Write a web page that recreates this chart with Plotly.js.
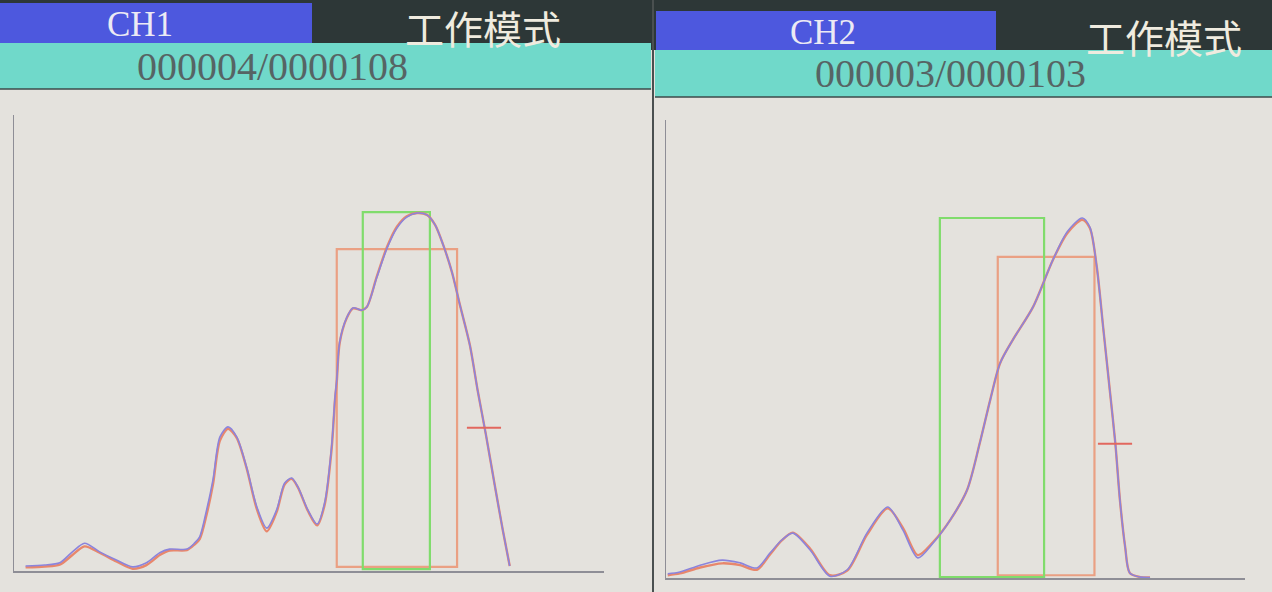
<!DOCTYPE html>
<html>
<head>
<meta charset="utf-8">
<script src="https://cdn.plot.ly/plotly-3.0.1.min.js"></script>
<style>
html,body{margin:0;padding:0;background:#e4e2dd;}
#chart{width:1272px;height:592px;}
</style>
</head>
<body>
<div id="chart"></div>
<script>
// ---- data ----
const channelNames = ["CH1", "CH2"];
const modeLabel = "工作模式";
const counters = ["000004/0000108", "000003/0000103"];

// CH1 waveform (two overlapping captures)
const ch1X = [0.0, 3.3, 5.9, 8.1, 10.2, 12.8, 15.7, 18.5, 20.9, 23.2, 24.9, 27.9, 29.2, 30.1, 31.3, 32.4, 33.6, 35.0, 36.5, 38.2, 40.0, 41.7, 43.4, 44.8, 46.0, 47.1, 48.8, 50.4, 51.7, 52.9, 53.5, 53.8, 54.3, 55.5, 56.6, 58.1, 59.0, 60.7, 62.5, 64.2, 65.9, 67.7, 69.4, 70.8, 72.2, 73.7, 75.1, 76.8, 78.2, 79.6, 81.1, 82.5, 83.7];
const ch1Blue = [1.1, 1.3, 1.8, 4.2, 6.1, 4.2, 2.4, 0.9, 1.8, 4.0, 4.8, 4.8, 6.1, 7.5, 13.4, 20.0, 29.4, 31.6, 29.4, 22.8, 14.0, 9.4, 13.4, 19.3, 20.4, 18.4, 13.4, 10.3, 14.9, 27.2, 38.2, 41.9, 50.2, 55.5, 57.7, 57.2, 57.9, 64.3, 70.8, 75.2, 77.6, 78.5, 78.1, 75.9, 71.5, 65.6, 58.3, 49.6, 39.3, 29.8, 18.9, 9.0, 1.1];
const ch1Orange = [0.8, 1.0, 1.4, 3.5, 5.4, 4.0, 2.1, 0.5, 1.3, 3.5, 4.5, 4.6, 5.8, 7.0, 12.4, 19.0, 28.6, 31.2, 29.2, 22.6, 13.5, 8.7, 12.9, 19.0, 20.2, 18.3, 13.2, 10.0, 14.5, 26.6, 37.6, 41.5, 50.0, 55.4, 57.6, 57.2, 57.9, 64.5, 71.1, 75.5, 77.8, 78.5, 78.1, 75.9, 71.5, 65.6, 58.3, 49.6, 39.3, 29.8, 18.9, 9.0, 1.1];

// CH2 waveform
const ch2X = [0.3, 2.4, 5.9, 9.7, 12.8, 15.7, 18.0, 20.0, 21.9, 24.9, 28.3, 31.3, 34.7, 38.3, 40.9, 43.5, 46.1, 49.1, 52.0, 54.2, 56.0, 57.7, 59.9, 63.4, 66.8, 69.3, 71.9, 73.2, 74.4, 75.5, 76.7, 77.6, 78.4, 79.3, 80.1, 81.9, 83.6];
const ch2Blue = [0.9, 1.3, 2.8, 3.9, 3.3, 2.2, 5.5, 8.3, 9.8, 6.1, 0.4, 1.8, 9.8, 15.5, 10.5, 4.4, 7.6, 12.7, 19.2, 29.5, 38.9, 46.9, 52.0, 59.2, 69.4, 75.6, 78.6, 76.6, 67.9, 54.8, 40.4, 29.5, 17.0, 6.8, 1.1, 0.2, 0.1];
const ch2Orange = [0.6, 1.0, 2.3, 3.2, 2.8, 1.8, 5.2, 8.2, 9.9, 6.4, 0.6, 1.6, 9.4, 15.2, 11.0, 5.0, 7.8, 12.7, 19.2, 29.5, 38.9, 46.9, 52.0, 59.2, 69.4, 75.3, 78.2, 76.4, 67.9, 54.8, 40.4, 29.5, 17.0, 6.8, 1.1, 0.2, 0.1];

// detection windows [left, right] and [bottom, top]
const ch1WinOrangeX = [53.8, 74.6], ch1WinOrangeY = [0.9, 70.6];
const ch1WinGreenX = [58.3, 69.9],  ch1WinGreenY = [0.4, 78.7];
const ch1MarkX = [76.3, 82.2], ch1MarkY = 31.4;
const ch2WinOrangeX = [57.3, 74.0], ch2WinOrangeY = [0.6, 70.1];
const ch2WinGreenX = [47.3, 65.3],  ch2WinGreenY = [0.2, 78.6];
const ch2MarkX = [74.6, 80.5], ch2MarkY = 29.3;

// ---- styling helpers ----
const W = 1272, H = 592;
const px = x => x / W;
const py = y => 1 - y / H;

const C = {
  bg: "#e4e2dd", dark: "#2d3737", blue: "#4d58de", cyan: "#70d9ca",
  cyanText: "#566464", headText: "#efebdf",
  lineBlue: "#8b84dc", lineOrange: "#e8876c",
  winOrange: "#eaa083", winGreen: "#80dc6c", mark: "#e2675e", axis: "#8e8e96"
};

function trace(x, y, color, xa, ya, w) {
  return {x: x, y: y, xaxis: xa, yaxis: ya, type: "scatter", mode: "lines",
    line: {color: color, width: w, shape: "spline", smoothing: 0.8}, hoverinfo: "skip", showlegend: false};
}

const data = [
  trace(ch1X, ch1Orange, C.lineOrange, "x", "y", 2.4),
  trace(ch1X, ch1Blue, C.lineBlue, "x", "y", 1.6),
  trace(ch2X, ch2Orange, C.lineOrange, "x2", "y2", 2.4),
  trace(ch2X, ch2Blue, C.lineBlue, "x2", "y2", 1.6)
];

function box(xr, yr, color, xref, yref) {
  return {type: "rect", xref: xref, yref: yref, x0: xr[0], x1: xr[1], y0: yr[0], y1: yr[1],
    line: {color: color, width: 2.2}, fillcolor: "rgba(0,0,0,0)", layer: "below"};
}
function mark(xr, yv, xref, yref) {
  return {type: "line", xref: xref, yref: yref, x0: xr[0], x1: xr[1], y0: yv, y1: yv,
    line: {color: C.mark, width: 2}};
}
function prect(x0, y0, x1, y1, fill) {
  return {type: "rect", xref: "paper", yref: "paper", x0: px(x0), x1: px(x1), y0: py(y1), y1: py(y0),
    line: {width: 0}, fillcolor: fill, layer: "above"};
}
function pline(x0, y0, x1, y1, color, w) {
  return {type: "line", xref: "paper", yref: "paper", x0: px(x0), x1: px(x1), y0: py(y0), y1: py(y1),
    line: {color: color, width: w}, layer: "above"};
}

const shapes = [
  // header band
  prect(0, 0, W, 50, C.dark),
  prect(0, 3, 312, 43, C.blue),
  prect(656, 11, 996, 50, C.blue),
  prect(0, 43, 651, 89, C.cyan),
  prect(655, 50, W, 97, C.cyan),
  pline(0, 89, 651, 89, "#3c4a4a", 1.5),
  pline(655, 97, W, 97, "#3c4a4a", 1.5),
  pline(653, 0, 653, H, "#4a5050", 2),
  // windows
  box(ch1WinOrangeX, ch1WinOrangeY, C.winOrange, "x", "y"),
  box(ch1WinGreenX, ch1WinGreenY, C.winGreen, "x", "y"),
  mark(ch1MarkX, ch1MarkY, "x", "y"),
  box(ch2WinOrangeX, ch2WinOrangeY, C.winOrange, "x2", "y2"),
  box(ch2WinGreenX, ch2WinGreenY, C.winGreen, "x2", "y2"),
  mark(ch2MarkX, ch2MarkY, "x2", "y2")
];

function ann(text, x, y, size, color, family) {
  return {text: text, xref: "paper", yref: "paper", x: px(x), y: py(y), xanchor: "center", yanchor: "middle",
    showarrow: false, font: {size: size, color: color, family: family}};
}
const serif = "Liberation Serif, DejaVu Serif, serif";
const cjk = "Noto Sans CJK SC, sans-serif";
const annotations = [
  ann(channelNames[0], 140, 24, 35, "#eceaf4", serif),
  ann(modeLabel, 483, 27, 39, C.headText, cjk),
  ann(channelNames[1], 823, 32, 35, "#eceaf4", serif),
  ann(modeLabel, 1164, 36, 39, C.headText, cjk),
  ann(counters[0], 272, 66, 40, C.cyanText, serif),
  ann(counters[1], 950, 73, 40, C.cyanText, serif)
];

const axBase = {showgrid: false, zeroline: false, showticklabels: false, ticks: "",
  showline: true, linecolor: C.axis, linewidth: 1.5, fixedrange: true};

const layout = {
  width: W, height: H,
  margin: {l: 0, r: 0, t: 0, b: 0},
  paper_bgcolor: C.bg, plot_bgcolor: C.bg,
  showlegend: false,
  xaxis: Object.assign({}, axBase, {domain: [px(14), px(604)], range: [-2, 100], anchor: "y"}),
  yaxis: Object.assign({}, axBase, {domain: [py(571), py(115)], range: [0, 100], anchor: "x"}),
  xaxis2: Object.assign({}, axBase, {domain: [px(666), px(1245)], range: [0, 100], anchor: "y2"}),
  yaxis2: Object.assign({}, axBase, {domain: [py(578), py(120)], range: [0, 100], anchor: "x2"}),
  shapes: shapes,
  annotations: annotations
};

Plotly.newPlot("chart", data, layout, {displayModeBar: false, staticPlot: true});
</script>
</body>
</html>
